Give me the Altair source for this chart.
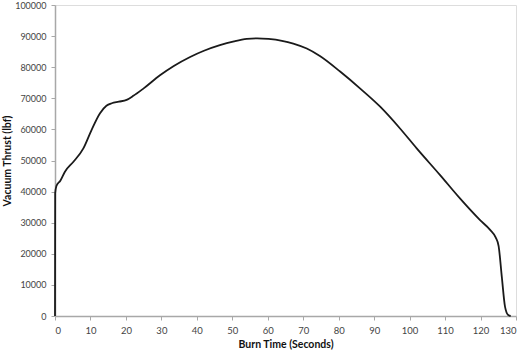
import altair as alt
import pandas as pd

burn_time = [0, 0.05, 0.4, 1.5, 2.8, 5.2, 8.0, 10.3, 12.7, 14.5, 16.0, 18.0, 20.2, 22.1,
             25.0, 29.6, 33.5, 38.1, 42.0, 46.5, 50.5, 54.1, 57.0, 60.2, 64.0, 67.2, 71.0,
             74.7, 80.4, 86.0, 91.7, 97.3, 102.0, 108.6, 114.2, 119.8, 122.7, 124.3, 125.1,
             126.0, 126.9, 127.8, 128.5]
thrust = [0, 39500, 41800, 43500, 46400, 49600, 53900, 59800, 65200, 67600, 68400, 68900,
          69500, 70800, 73200, 77400, 80400, 83300, 85300, 87100, 88300, 89100, 89300,
          89100, 88500, 87600, 86000, 83600, 78600, 73200, 67300, 60300, 53900, 45300,
          37800, 30900, 27700, 25200, 22500, 12600, 3000, 300, 0]
x_ticks = list(range(0, 131, 10))
y_ticks = list(range(0, 100001, 10000))

df = pd.DataFrame({"t": burn_time, "thrust": thrust, "order": range(len(burn_time))})

FONT = "Lato"

chart = alt.Chart(df).mark_line(color="#1a1a1a", strokeWidth=1.8, interpolate="monotone").encode(
    x=alt.X("t:Q", title="Burn Time (Seconds)",
            scale=alt.Scale(domain=[0, 130], nice=False, zero=False),
            axis=alt.Axis(values=x_ticks, format="d", grid=False, domainColor="#a8a8a8",
                          domainWidth=1.5, tickColor="#a8a8a8", tickSize=4,
                          labelFont=FONT, labelFontSize=9.5, labelColor="#444",
                          labelPadding=5, titleFont=FONT, titleFontSize=10.5,
                          titleFontWeight="bold", titleColor="#111", titlePadding=5)),
    y=alt.Y("thrust:Q", title="Vacuum Thrust (lbf)",
            scale=alt.Scale(domain=[0, 100000], nice=False),
            axis=alt.Axis(values=y_ticks, format="d", grid=False, domainColor="#a8a8a8",
                          domainWidth=1.5, tickColor="#a8a8a8", tickSize=4,
                          labelFont=FONT, labelFontSize=9, labelColor="#444",
                          labelPadding=5, titleFont=FONT, titleFontSize=10.5,
                          titleFontWeight="bold", titleColor="#111", titlePadding=2)),
    order="order:Q",
).properties(
    width=461, height=311,
    autosize=alt.AutoSizeParams(type="none"),
    padding={"left": 55, "top": 5, "right": 7, "bottom": 35},
).configure_view(stroke="#c8c8c8", strokeWidth=1.5).configure(background="white")

chart.save("out.html", embed_options={"renderer": "svg", "actions": False})
